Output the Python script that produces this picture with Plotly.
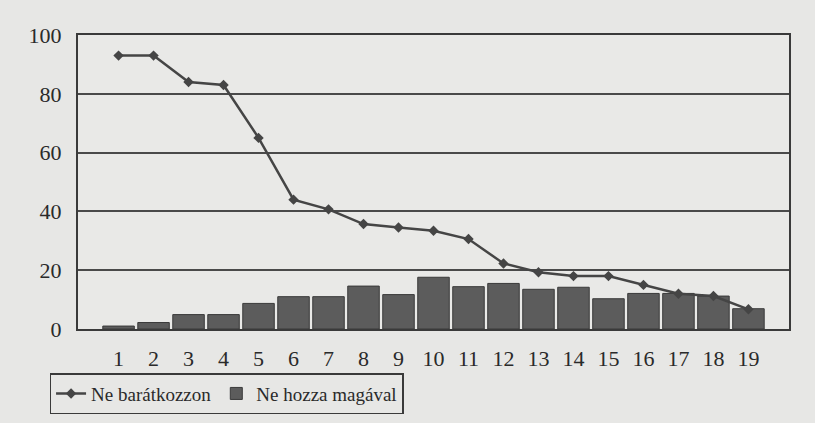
import plotly.graph_objects as go

categories = [str(i) for i in range(1, 20)]
ne_baratkozzon = [93, 93, 84, 83, 65, 44, 40.7, 35.7, 34.5, 33.4, 30.6, 22.3, 19.3, 18, 18, 15, 12, 11.2, 6.7]
ne_hozza = [1, 2.2, 4.9, 4.9, 8.7, 11, 11, 14.6, 11.7, 17.6, 14.4, 15.5, 13.5, 14.2, 10.3, 12.1, 12.1, 11.2, 6.9]
y_ticks = [0, 20, 40, 60, 80, 100]

SERIF = "Liberation Serif"
font = dict(family=SERIF, color="#2a2a2a", size=21)

fig = go.Figure()
fig.add_trace(go.Bar(
    x=categories, y=ne_hozza, name="Ne hozza magával",
    marker=dict(color="#5c5c5c", line=dict(color="#3a3a3a", width=1)),
))
fig.add_trace(go.Scatter(
    x=categories, y=ne_baratkozzon, name="Ne barátkozzon", mode="lines+markers",
    line=dict(color="#454545", width=2.5),
    marker=dict(symbol="diamond", size=8, color="#454545"),
))

fig.update_layout(
    width=815, height=423,
    margin=dict(l=78, r=26, t=35, b=94, autoexpand=False),
    paper_bgcolor="#e7e7e5",
    plot_bgcolor="#e9e9e7",
    bargap=0.1,
    font=font,
    showlegend=True,
    legend=dict(
        orientation="h", x=-0.04, y=-0.15, xanchor="left", yanchor="top",
        bgcolor="rgba(0,0,0,0)", bordercolor="#3a3a3a", borderwidth=1.5,
        font=dict(family=SERIF, size=19, color="#2a2a2a"), traceorder="reversed",
        itemwidth=30, tracegroupgap=0,
    ),
    xaxis=dict(
        showgrid=False, showline=True, linecolor="#3a3a3a", linewidth=2, mirror=True,
        ticks="", tickfont=dict(family=SERIF, size=22, color="#2a2a2a"), ticklabelstandoff=9,
    ),
    yaxis=dict(
        range=[0, 100], tickvals=y_ticks, showgrid=True, gridcolor="#4a4a4a", gridwidth=1.5,
        showline=True, linecolor="#3a3a3a", linewidth=2, mirror=True, ticks="",
        tickfont=dict(family=SERIF, size=22, color="#2a2a2a"), zeroline=False, ticklabelstandoff=10,
    ),
)

fig.write_html("out.html", config={"displayModeBar": False})
with open("out.html", encoding="utf-8") as f:
    html = f.read()
html = html.replace("<body>", '<body style="margin:0">', 1)
with open("out.html", "w", encoding="utf-8") as f:
    f.write(html)
